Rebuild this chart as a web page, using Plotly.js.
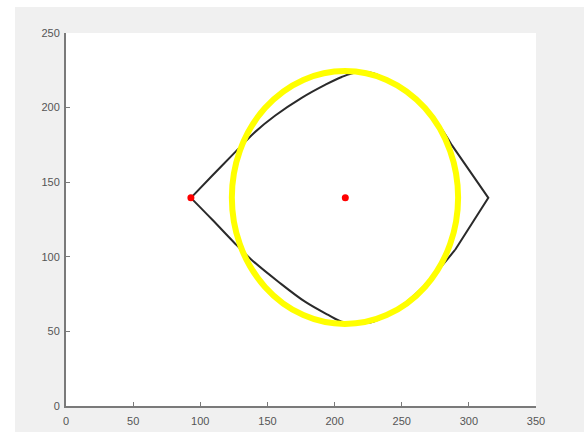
<!DOCTYPE html>
<html>
<head>
<meta charset="utf-8">
<script src="https://cdn.plot.ly/plotly-3.0.1.min.js"></script>
<style>html,body{margin:0;padding:0;background:#fff;}#chart{width:584px;height:432px;}</style>
</head>
<body>
<div id="chart"></div>
<script>
// Black "eye" contour, split into its pieces
// upper arc: left vertex -> top -> right shoulder
var upperX = [93, 109, 125.8, 140, 155.6, 175.5, 192.9, 205.3, 216, 228.8, 253.7, 271, 287.2];
var upperY = [139.5, 154.5, 170, 183, 194.5, 206.5, 215.2, 220.5, 223.5, 223, 209.6, 196.2, 175];
// right corner: upper shoulder -> right vertex -> lower shoulder
var cornerX = [287.2, 314.5, 289.7];
var cornerY = [175, 139.5, 104.6];
// lower arc: right shoulder -> bottom -> left vertex
var lowerX = [289.7, 263.6, 245, 228.8, 215, 205.3, 195.3, 178, 158.1, 138.3, 124.6, 109, 93];
var lowerY = [104.6, 77.7, 64, 56.5, 55.5, 56.5, 61, 69.9, 83.3, 97.9, 110.1, 124.8, 139.5];
// Red points
var pointsX = [93, 208];
var pointsY = [139.5, 139.5];
// Yellow ellipse bounding box
var ellipseX = [123.5, 292];
var ellipseY = [55, 224.5];
// Axis ticks
var xTicks = [0, 50, 100, 150, 200, 250, 300, 350];
var yTicks = [0, 50, 100, 150, 200, 250];

var blackLine = {color: '#2a2a2a', width: 2};
var traces = [
  {x: upperX, y: upperY, type: 'scatter', mode: 'lines', line: Object.assign({shape: 'spline', smoothing: 1}, blackLine), hoverinfo: 'skip'},
  {x: cornerX, y: cornerY, type: 'scatter', mode: 'lines', line: Object.assign({shape: 'linear'}, blackLine), hoverinfo: 'skip'},
  {x: lowerX, y: lowerY, type: 'scatter', mode: 'lines', line: Object.assign({shape: 'spline', smoothing: 1}, blackLine), hoverinfo: 'skip'},
  {x: pointsX, y: pointsY, type: 'scatter', mode: 'markers',
   marker: {color: '#ff0000', size: 7}, hoverinfo: 'skip'}
];

var axisCommon = {
  showgrid: false, zeroline: false, showline: true, linecolor: '#7a7a7a', linewidth: 2,
  ticks: 'inside', ticklen: 4, tickwidth: 1, tickcolor: '#7a7a7a', mirror: false,
  tickfont: {family: 'Liberation Sans, Arial, sans-serif', size: 11, color: '#555555'}
};

var layout = {
  width: 584, height: 432,
  margin: {l: 66, r: 48, t: 33, b: 26, pad: 0},
  paper_bgcolor: '#f0f0f0', plot_bgcolor: '#ffffff',
  showlegend: false,
  xaxis: Object.assign({}, axisCommon, {range: [0, 350], tickvals: xTicks, ticktext: xTicks.map(String), ticklabelstandoff: 4, fixedrange: true}),
  yaxis: Object.assign({}, axisCommon, {range: [0, 250], tickvals: yTicks, ticktext: yTicks.map(String), ticklabelstandoff: 2, fixedrange: true}),
  shapes: [
    {type: 'rect', xref: 'paper', yref: 'paper', x0: -0.2, x1: -0.1085, y0: -0.2, y1: 1.2,
     fillcolor: '#ffffff', line: {width: 0}, layer: 'below'},
    {type: 'rect', xref: 'paper', yref: 'paper', x0: -0.2, x1: 1.2, y0: 1.0697, y1: 1.2,
     fillcolor: '#ffffff', line: {width: 0}, layer: 'below'},
    {type: 'circle', xref: 'x', yref: 'y', x0: ellipseX[0], x1: ellipseX[1], y0: ellipseY[0], y1: ellipseY[1],
     line: {color: '#ffff00', width: 6}, layer: 'above'}
  ]
};

Plotly.newPlot('chart', traces, layout, {staticPlot: true, displayModeBar: false});
</script>
</body>
</html>
